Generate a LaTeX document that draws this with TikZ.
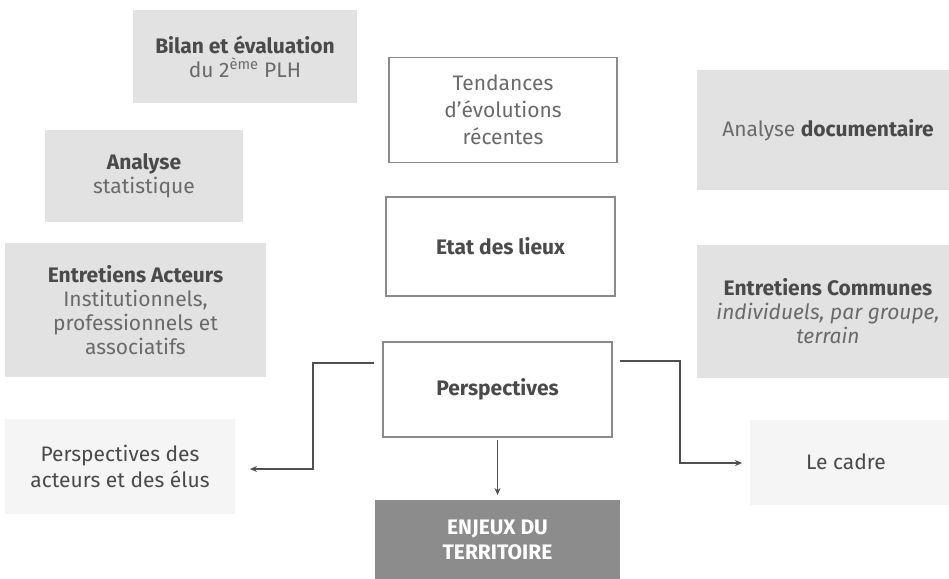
\documentclass[tikz,border=0pt]{standalone}
\usepackage{fontspec}
\setmainfont{Fira Sans}
\usetikzlibrary{arrows.meta}
\definecolor{boxgray}{HTML}{E2E2E2}
\definecolor{faint}{HTML}{F5F5F5}
\definecolor{txt}{HTML}{6A6A6A}
\definecolor{txtd}{HTML}{4A4A4A}
\definecolor{linec}{HTML}{8A8A8A}
\definecolor{darkbox}{HTML}{8C8C8C}
\definecolor{arr}{HTML}{505050}
\newcommand{\bt}[1]{{\bfseries\color{txtd}#1}}
\tikzset{
  basefont/.style={font=\fontsize{21}{24}\selectfont},
  graybox/.style={fill=boxgray, draw=none, align=center, text=txt, basefont, inner sep=0pt},
  whitebox/.style={fill=white, draw=linec, line width=1.2pt, align=center, text=txt, basefont, inner sep=0pt},
  faintbox/.style={fill=faint, draw=none, align=center, text=txtd, basefont, inner sep=0pt},
  conn/.style={draw=arr, line width=1.6pt, -{Stealth[length=7pt,width=6pt]}},
}
\begin{document}
\begin{tikzpicture}[x=1pt,y=-1pt]
\useasboundingbox (0,0) rectangle (949,578);
\begin{scope}
\clip (0,0) rectangle (949,578);
\node[graybox, minimum width=224pt, minimum height=93pt] (bilan) at (245,56.5) {\bt{Bilan et évaluation}\\du 2\textsuperscript{ème} PLH};
\node[whitebox, minimum width=228pt, minimum height=105pt, font=\fontsize{21}{27}\selectfont] (tend) at (503,110) {Tendances\\d'évolutions\\récentes};
\node[graybox, minimum width=198pt, minimum height=92pt] (stat) at (144,176) {\bt{Analyse}\\statistique};
\node[whitebox, minimum width=229pt, minimum height=99pt] (etat) at (500.5,246.5) {\bt{Etat des lieux}};
\node[graybox, minimum width=261pt, minimum height=134pt] (acteurs) at (135.5,310) {\bt{Entretiens Acteurs}\\Institutionnels,\\professionnels et\\associatifs};
\node[whitebox, minimum width=229pt, minimum height=95pt] (persp) at (497.5,389.5) {\bt{Perspectives}};
\node[graybox, minimum width=262pt, minimum height=120pt] (doc) at (828,130) {Analyse \bt{documentaire}};
\node[graybox, minimum width=262pt, minimum height=133pt] (comm) at (828,311.5) {\bt{Entretiens Communes}\\\textit{individuels, par groupe,}\\\textit{terrain}};
\node[faintbox, minimum width=230pt, minimum height=95pt, font=\fontsize{21}{26}\selectfont] (pa) at (120,466) {Perspectives des\\acteurs et des élus};
\node[faintbox, minimum width=200pt, minimum height=85pt] (cadre) at (850,462) {\hspace*{-8pt}Le cadre};
\node[fill=darkbox, text=white, align=center, font=\fontsize{21}{25}\selectfont\bfseries, minimum width=245pt, minimum height=80pt, inner sep=0pt] (enjeux) at (497.5,540) {ENJEUX DU\\TERRITOIRE};
\end{scope}
\coordinate (pl) at (374,363);
\coordinate (pr) at (620,361);
\coordinate (pae) at (250,469);
\coordinate (cae) at (742,463);
\draw[conn] (pl) -- (313,363) |- (pae);
\draw[conn] (pr) -- (680,361) |- (cae);
\draw[draw=arr, line width=1.1pt, -{Stealth[length=7pt,width=6pt]}] (persp.south |- 0,440) -- (enjeux.north |- 0,495);
\end{tikzpicture}
\end{document}
